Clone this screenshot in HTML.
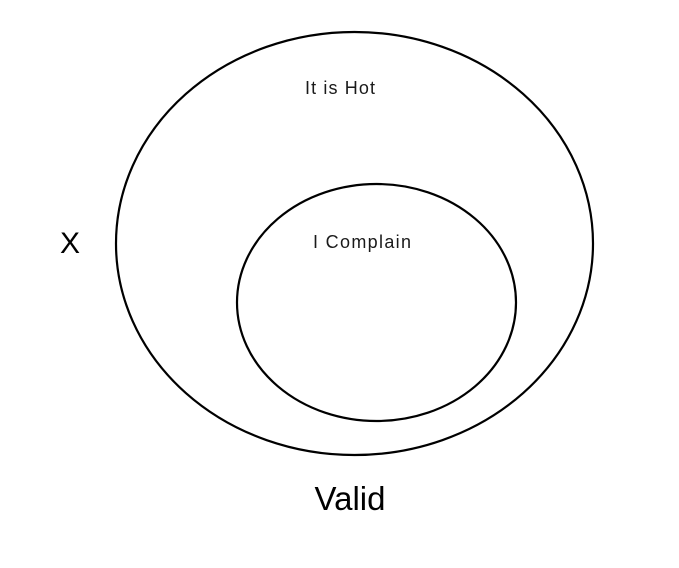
<!DOCTYPE html>
<html><head><style>
html,body{margin:0;padding:0;background:#fff;width:679px;height:568px;overflow:hidden}
</style></head><body>
<svg width="679" height="568" xmlns="http://www.w3.org/2000/svg">
<rect width="679" height="568" fill="#fff"/>
<ellipse cx="354.5" cy="243.5" rx="238.5" ry="211.5" fill="none" stroke="#000" stroke-width="2.2"/>
<ellipse cx="376.5" cy="302.5" rx="139.5" ry="118.5" fill="none" stroke="#000" stroke-width="2.2"/>
<text x="305" y="94" font-family="Liberation Sans, sans-serif" font-size="18" fill="#1a1a1a" textLength="70">It is Hot</text>
<text x="313" y="248" font-family="Liberation Sans, sans-serif" font-size="18" fill="#1a1a1a" textLength="98">I Complain</text>
<text x="70" y="253" font-family="Liberation Sans, sans-serif" font-size="30" fill="#000" text-anchor="middle">X</text>
<text x="350" y="510" font-family="Liberation Sans, sans-serif" font-size="33" fill="#000" text-anchor="middle">Valid</text>
</svg>
</body></html>
